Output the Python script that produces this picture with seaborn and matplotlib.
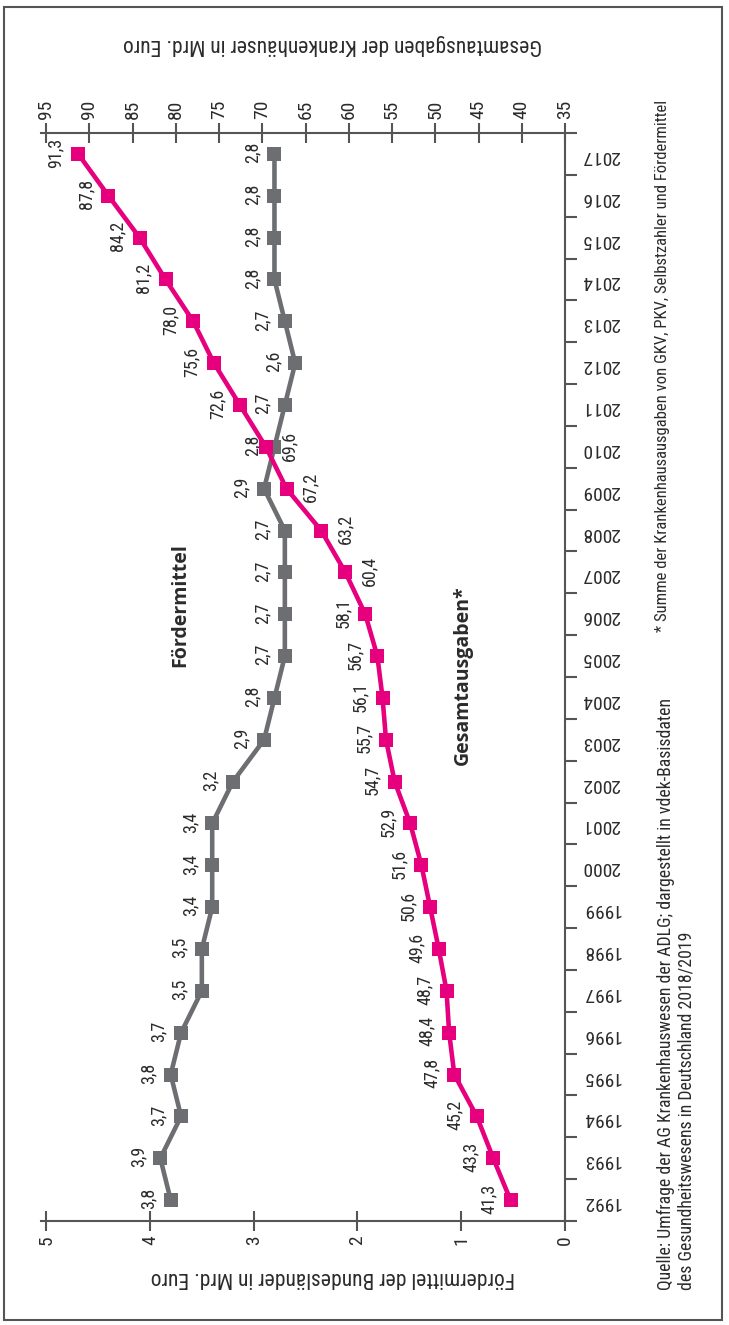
import numpy as np
import pandas as pd
import matplotlib.pyplot as plt
import matplotlib.patches as mpatches
import seaborn as sns

# data
years = list(range(1992, 2018))
foerdermittel = [3.8, 3.9, 3.7, 3.8, 3.7, 3.5, 3.5, 3.4, 3.4, 3.4, 3.2, 2.9, 2.8,
                 2.7, 2.7, 2.7, 2.7, 2.9, 2.8, 2.7, 2.6, 2.7, 2.8, 2.8, 2.8, 2.8]
gesamtausgaben = [41.3, 43.3, 45.2, 47.8, 48.4, 48.7, 49.6, 50.6, 51.6, 52.9, 54.7, 55.7, 56.1,
                  56.7, 58.1, 60.4, 63.2, 67.2, 69.6, 72.6, 75.6, 78.0, 81.2, 84.2, 87.8, 91.3]
foerder_ticks = [0, 1, 2, 3, 4, 5]
gesamt_ticks = [35, 40, 45, 50, 55, 60, 65, 70, 75, 80, 85, 90, 95]
# years where the Gesamtausgaben label sits on the other side of the line
gesamt_label_right = [2007, 2008, 2009, 2010]

df = pd.DataFrame({'jahr': years, 'foerder': foerdermittel, 'gesamt': gesamtausgaben})

sns.set_style('white')
plt.rcParams['font.family'] = ['Roboto Condensed', 'DejaVu Sans']
plt.rcParams['font.stretch'] = 'condensed'

gray = '#6d6e71'
pink = '#e6007e'
axcol = '#555555'
txt = '#2b2b2b'

W, H = 729, 1325
fig = plt.figure(figsize=(W / 100, H / 100), dpi=100)

def fx(px):
    return px / W

def fy(py):
    return 1 - py / H

ax = fig.add_axes([fx(41), fy(1221), fx(565 - 41), (1221 - 133) / H])
ax2 = ax.twiny()

ax.set_xlim(5.05, 0)
ax2.set_xlim(35 + 12 * 5.05, 35)
ax.set_ylim(1991.5, 2017.5)

sns.lineplot(data=df, x='foerder', y='jahr', orient='y', ax=ax, color=gray, lw=3.3,
             marker='s', markersize=9.5, markeredgewidth=0, zorder=3)
sns.lineplot(data=df, x='gesamt', y='jahr', orient='y', ax=ax2, color=pink, lw=3.3,
             marker='s', markersize=9.5, markeredgewidth=0, zorder=4)

for yr, v in zip(years, foerdermittel):
    ax.annotate(f'{v:.1f}'.replace('.', ','), (v, yr), xytext=(-16, 1),
                textcoords='offset points', rotation=90, ha='center', va='center',
                fontsize=13, color=txt)
for yr, v in zip(years, gesamtausgaben):
    dx = 17 if yr in gesamt_label_right else -16
    ax2.annotate(f'{v:.1f}'.replace('.', ','), (v, yr), xytext=(dx, 1),
                 textcoords='offset points', rotation=90, ha='center', va='center',
                 fontsize=13, color=txt)

# spines
for s in ['left', 'top']:
    ax.spines[s].set_visible(False)
for s in ['left', 'right', 'bottom']:
    ax2.spines[s].set_visible(False)
for s in ['right', 'bottom']:
    ax.spines[s].set_color(axcol)
    ax.spines[s].set_linewidth(1.5)
ax2.spines['top'].set_color(axcol)
ax2.spines['top'].set_linewidth(1.5)

# value axes
ax.set_xticks(foerder_ticks)
ax.set_xticklabels(foerder_ticks)
ax.tick_params(axis='x', direction='inout', length=14, width=1.5, color=axcol,
               labelrotation=90, pad=3, labelsize=14, labelcolor=txt)
ax2.set_xticks(gesamt_ticks)
ax2.set_xticklabels(gesamt_ticks)
ax2.tick_params(axis='x', direction='inout', length=14, width=1.5, color=axcol,
                labelrotation=90, pad=3, labelsize=14, labelcolor=txt)
ax.set_xlabel('')
ax2.set_xlabel('')
ax.set_ylabel('')

# year axis
ax.yaxis.tick_right()
ax.set_yticks(years)
ax.set_yticklabels(years, rotation=180)
ax.tick_params(axis='y', which='major', length=0, pad=12, labelsize=14, labelcolor=txt)
ax.set_yticks(np.arange(1991.5, 2018, 1), minor=True)
ax.tick_params(axis='y', which='minor', direction='out', length=8.5, width=1.5, color=axcol)

# titles and notes
fig.text(fx(332), fy(45), 'Gesamtausgaben der Krankenhäuser in Mrd. Euro', rotation=180,
         ha='center', va='center', fontsize=15.5, color=txt)
fig.text(fx(333), fy(1278), 'Fördermittel der Bundesländer in Mrd. Euro', rotation=180,
         ha='center', va='center', fontsize=15.5, color=txt)
fig.text(fx(180), fy(605), 'Fördermittel', rotation=90, ha='center', va='center',
         fontsize=14, fontweight='bold', fontstretch='normal',
         family=['Open Sans', 'DejaVu Sans'], color=txt)
fig.text(fx(463), fy(675), 'Gesamtausgaben*', rotation=90, ha='center', va='center',
         fontsize=14, fontweight='bold', fontstretch='normal',
         family=['Open Sans', 'DejaVu Sans'], color=txt)
fig.text(fx(663), fy(366), '* Summe der Krankenhausausgaben von GKV, PKV, Selbstzahler und Fördermittel',
         rotation=90, ha='center', va='center', fontsize=12, color=txt)
fig.text(fx(676), fy(1290),
         'Quelle: Umfrage der AG Krankenhauswesen der ADLG; dargestellt in vdek-Basisdaten\n'
         'des Gesundheitswesens in Deutschland 2018/2019',
         rotation=90, rotation_mode='anchor', ha='left', va='center', multialignment='left',
         fontsize=12.8, color=txt, linespacing=1.15)

fig.add_artist(mpatches.Rectangle((fx(4), fy(1320)), fx(718), 1313 / H, transform=fig.transFigure,
                                  fill=False, ec=axcol, lw=1.5))

fig.savefig('out.png', dpi=100)
